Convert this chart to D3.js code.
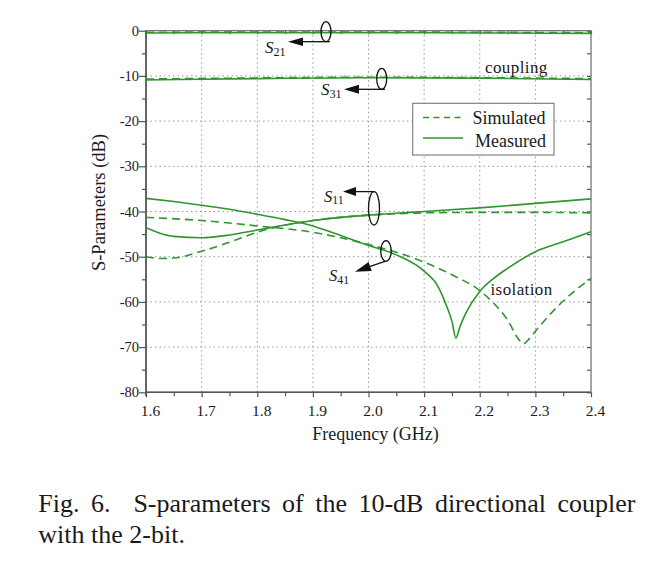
<!DOCTYPE html>
<html>
<head>
<meta charset="utf-8">
<script src="https://cdn.jsdelivr.net/npm/d3@7/dist/d3.min.js"></script>
<style>
  html, body { margin: 0; padding: 0; background: #fff; }
  svg { display: block; }
  text { font-family: "Liberation Serif", "Times New Roman", serif; fill: #1a1a1a; }
</style>
</head>
<body>
<svg id="chart" width="657" height="565"></svg>
<script>
// ---------------- data ----------------
const xTicks = [1.6, 1.7, 1.8, 1.9, 2.0, 2.1, 2.2, 2.3, 2.4];
const xMinor = [1.65, 1.75, 1.85, 1.95, 2.05, 2.15, 2.25, 2.35];
const yTicks = [0, -10, -20, -30, -40, -50, -60, -70, -80];
const yMinor = [-5, -15, -25, -35, -45, -55, -65, -75];

const flatFreq = [1.6, 1.8, 2.0, 2.2, 2.4];
const s21Meas = [-0.5, -0.45, -0.45, -0.5, -0.6];
const s21Sim  = [-0.35, -0.3, -0.3, -0.35, -0.45];
const s31Meas = [-10.9, -10.6, -10.4, -10.5, -10.8];
const s31Sim  = [-10.7, -10.45, -10.3, -10.4, -10.6];

const s11MeasFreq = [1.6, 1.625, 1.65, 1.7, 1.75, 1.8, 1.85, 1.9, 1.95, 2.0, 2.05, 2.1, 2.2, 2.3, 2.4];
const s11Meas     = [-43.6, -44.8, -45.5, -45.8, -45.2, -44.1, -43.0, -42.0, -41.3, -40.8, -40.4, -40.0, -39.2, -38.2, -37.2];
const s11SimFreq  = [1.6, 1.625, 1.65, 1.7, 1.75, 1.8, 1.85, 1.9, 1.95, 2.0, 2.05, 2.1, 2.2, 2.3, 2.4];
const s11Sim      = [-50.0, -50.4, -50.3, -48.8, -46.8, -44.6, -43.0, -42.0, -41.3, -40.8, -40.5, -40.3, -40.2, -40.2, -40.3];

const s41MeasFreq = [1.6, 1.65, 1.7, 1.75, 1.8, 1.85, 1.9, 1.95, 2.0, 2.05, 2.1, 2.125, 2.14, 2.15, 2.157, 2.165, 2.175, 2.2, 2.225, 2.25, 2.3, 2.35, 2.4];
const s41Meas     = [-37.1, -37.8, -38.6, -39.5, -40.6, -41.8, -43.2, -45.3, -47.5, -49.6, -53.2, -56.6, -60.8, -64.3, -68.0, -65.3, -62.5, -57.7, -54.8, -52.6, -48.9, -46.7, -44.5];
const s41SimFreq  = [1.6, 1.7, 1.8, 1.9, 1.95, 2.0, 2.05, 2.1, 2.15, 2.2, 2.225, 2.25, 2.27, 2.278, 2.29, 2.3, 2.35, 2.4];
const s41Sim      = [-41.3, -42.0, -43.2, -44.6, -45.8, -47.3, -49.0, -51.2, -54.0, -57.5, -60.3, -64.0, -68.3, -69.3, -68.0, -66.5, -59.8, -54.8];

const legendLabels = ["Simulated", "Measured"];

// ---------------- layout ----------------
const svg = d3.select("#chart");
const x = d3.scaleLinear().domain([1.6, 2.4]).range([146, 591]);
const y = d3.scaleLinear().domain([-80, 0]).range([392.3, 30.7]);
const green = "#2e962e";
const axisColor = "#555";

// grid
const grid = svg.append("g");
grid.selectAll("line.vx").data(xTicks.slice(1, -1)).join("line")
  .attr("x1", d => x(d)).attr("x2", d => x(d))
  .attr("y1", y(0)).attr("y2", y(-80))
  .attr("stroke", "#9a9a9a").attr("stroke-width", 1).attr("stroke-dasharray", "1.5,3");
grid.selectAll("line.hy").data(yTicks.slice(1, -1)).join("line")
  .attr("x1", x(1.6)).attr("x2", x(2.4))
  .attr("y1", d => y(d)).attr("y2", d => y(d))
  .attr("stroke", "#9a9a9a").attr("stroke-width", 1).attr("stroke-dasharray", "1.5,3");

// axes
function styleAxis(g) {
  g.select(".domain").remove();
  g.selectAll(".tick line").attr("stroke", axisColor).attr("stroke-width", 1.2);
}
const fmtY = d => String(d);
svg.append("g").attr("transform", `translate(${x(1.6)},0)`)
  .call(d3.axisLeft(y).tickValues(yTicks).tickSize(7).tickPadding(0).tickFormat(fmtY))
  .call(styleAxis)
  .call(g => g.selectAll("text").attr("font-size", 14.5).attr("font-family", "Liberation Serif").attr("fill", "#1a1a1a"));
svg.append("g").attr("transform", `translate(${x(1.6)},0)`)
  .call(d3.axisLeft(y).tickValues(yMinor).tickSize(4).tickFormat(""))
  .call(styleAxis);
svg.append("g").attr("transform", `translate(0,${y(-80)})`)
  .call(d3.axisBottom(x).tickValues(xTicks).tickSize(5).tickPadding(8).tickFormat(d3.format(".1f")))
  .call(styleAxis)
  .call(g => g.selectAll("text").attr("font-size", 15.5).attr("dx", 4).attr("font-family", "Liberation Serif").attr("fill", "#1a1a1a"));
svg.append("g").attr("transform", `translate(0,${y(-80)})`)
  .call(d3.axisBottom(x).tickValues(xMinor).tickSize(4).tickFormat(""))
  .call(styleAxis);
svg.append("g").attr("transform", `translate(${x(2.4)},0)`)
  .call(d3.axisRight(y).tickValues(yMinor.concat(yTicks)).tickSize(-4).tickFormat(""))
  .call(styleAxis);
svg.append("g").attr("transform", `translate(0,${y(0)})`)
  .call(d3.axisTop(x).tickValues(xMinor.concat(xTicks)).tickSize(-3.5).tickFormat(""))
  .call(styleAxis);

// frame
svg.append("rect")
  .attr("x", x(1.6)).attr("y", y(0))
  .attr("width", x(2.4) - x(1.6)).attr("height", y(-80) - y(0))
  .attr("fill", "none").attr("stroke", "#6a6a6a").attr("stroke-width", 1.2);
svg.append("line").attr("x1", x(1.6)).attr("x2", x(1.6)).attr("y1", y(0)).attr("y2", y(-80)+4)
  .attr("stroke", axisColor).attr("stroke-width", 1.6);
svg.append("line").attr("x1", x(1.6)).attr("x2", x(2.4)).attr("y1", y(-80)).attr("y2", y(-80))
  .attr("stroke", axisColor).attr("stroke-width", 1.6);

// curves
const series = [
  { f: flatFreq, v: s21Sim, dash: true },
  { f: flatFreq, v: s21Meas, dash: false },
  { f: flatFreq, v: s31Sim, dash: true },
  { f: flatFreq, v: s31Meas, dash: false },
  { f: s11SimFreq, v: s11Sim, dash: true },
  { f: s11MeasFreq, v: s11Meas, dash: false },
  { f: s41SimFreq, v: s41Sim, dash: true },
  { f: s41MeasFreq, v: s41Meas, dash: false }
];
const line = d3.line().x(d => x(d[0])).y(d => y(d[1])).curve(d3.curveMonotoneX);
svg.append("g").selectAll("path").data(series).join("path")
  .attr("d", s => line(s.f.map((f, i) => [f, s.v[i]])))
  .attr("fill", "none").attr("stroke", green).attr("stroke-width", 1.6)
  .attr("stroke-dasharray", s => s.dash ? "8,5" : null);

// annotations
const ann = svg.append("g");
function ellipse(cx, cy, rx, ry) {
  ann.append("ellipse").attr("cx", cx).attr("cy", cy).attr("rx", rx).attr("ry", ry)
    .attr("fill", "none").attr("stroke", "#111").attr("stroke-width", 1.3);
}
function arrow(x0, y0, ax, ay, len, hw) {
  const dx = ax - x0, dy = ay - y0, L = Math.hypot(dx, dy);
  const ux = dx / L, uy = dy / L;
  const bx = ax - ux * len, by = ay - uy * len;
  ann.append("line").attr("x1", x0).attr("y1", y0).attr("x2", bx).attr("y2", by)
    .attr("stroke", "#111").attr("stroke-width", 1.3);
  ann.append("path")
    .attr("d", `M${ax},${ay}L${bx - uy * hw},${by + ux * hw}L${bx + uy * hw},${by - ux * hw}Z`)
    .attr("fill", "#111");
}
function sLabel(xp, yp, sub, size) {
  const t = ann.append("text").attr("x", xp).attr("y", yp).attr("font-size", size);
  t.append("tspan").attr("font-style", "italic").text("S");
  t.append("tspan").attr("font-size", size * 0.72).attr("dy", 2.5).text(sub);
}
ellipse(326, 31.7, 5, 10);
arrow(330, 41.7, 288, 41.7, 15, 4.2);
sLabel(265, 53.3, "21", 17);

ellipse(381.7, 78.8, 5, 10.5);
arrow(385, 89.3, 344, 89.3, 15, 4.5);
sLabel(321, 95, "31", 17);

ellipse(374, 208.3, 5.5, 16.7);
arrow(374, 191.6, 343, 191.6, 13, 4.5);
sLabel(324, 201.7, "11", 16.5);

ellipse(386, 251, 5.2, 10.3);
arrow(385, 261.3, 355, 271.7, 16, 4.8);
sLabel(329, 281, "41", 16.5);

svg.append("text").attr("x", 485).attr("y", 73.3).attr("font-size", 17)
  .attr("letter-spacing", 0.4).text("coupling");
svg.append("text").attr("x", 490.5).attr("y", 295).attr("font-size", 17)
  .attr("letter-spacing", 0.4).text("isolation");

// legend
const lg = svg.append("g");
lg.append("rect").attr("x", 412.7).attr("y", 103.3).attr("width", 141.3).attr("height", 51.7)
  .attr("fill", "#fff").attr("stroke", "#777").attr("stroke-width", 1.1);
legendLabels.forEach((lab, i) => {
  const yy = [117.5, 138][i];
  lg.append("line").attr("x1", 423).attr("x2", 463).attr("y1", yy).attr("y2", yy)
    .attr("stroke", green).attr("stroke-width", 1.4)
    .attr("stroke-dasharray", i === 0 ? "6,4.5" : null);
  lg.append("text").attr("x", [472.5, 475][i]).attr("y", [124, 146.5][i])
    .attr("font-size", 18).text(lab);
});

// axis titles
svg.append("text").attr("x", 375.5).attr("y", 440).attr("font-size", 18)
  .attr("text-anchor", "middle").text("Frequency (GHz)");
svg.append("text").attr("transform", "translate(105,202.5) rotate(-90)")
  .attr("font-size", 18.5).attr("text-anchor", "middle").text("S-Parameters (dB)");

// caption (justified first line)
const capSize = 26;
const line1 = ["Fig.", "6.", "S-parameters", "of", "the", "10-dB", "directional", "coupler"];
const gapW = [1, 2, 1, 1, 1, 1, 1];
const capLeft = 38.3, capRight = 635.5;
const cap = svg.append("g");
const nodes = line1.map(w => cap.append("text").attr("y", 511.7).attr("font-size", capSize).text(w));
const widths = nodes.map(n => n.node().getComputedTextLength());
const extra = (capRight - capLeft - d3.sum(widths)) / d3.sum(gapW);
let cx = capLeft;
nodes.forEach((n, i) => {
  n.attr("x", cx);
  cx += widths[i] + (i < gapW.length ? gapW[i] * extra : 0);
});
cap.append("text").attr("x", capLeft).attr("y", 542.7).attr("font-size", capSize).text("with the 2-bit.");
</script>
</body>
</html>
